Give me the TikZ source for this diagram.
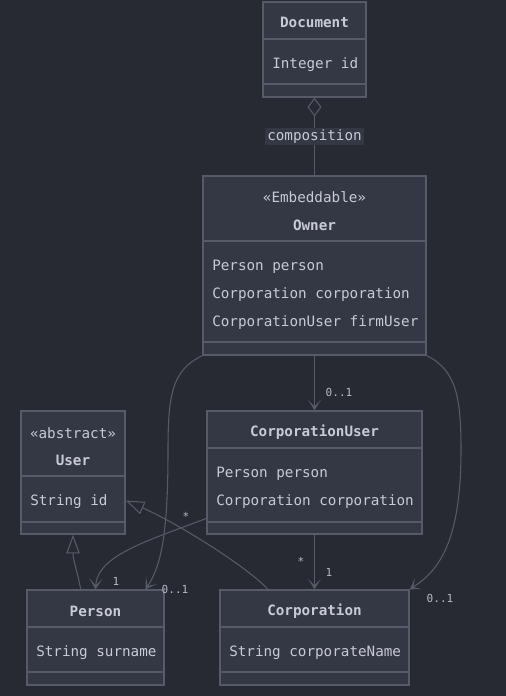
\documentclass[tikz,border=0pt]{standalone}
\usepackage{fontspec}
\setmonofont{DejaVu Sans Mono}
\usetikzlibrary{arrows.meta}

\definecolor{bgc}{HTML}{282A33}
\definecolor{boxc}{HTML}{343744}
\definecolor{linec}{HTML}{565A69}
\definecolor{textc}{HTML}{C8CBD6}
\definecolor{labelc}{HTML}{B4B8C4}

\tikzset{
    classbox/.style={draw=linec, fill=boxc, line width=1.1pt, inner sep=0pt},
    divider/.style={draw=linec, line width=1.1pt},
    title/.style={text=textc, inner sep=0pt, yshift=-1pt, font=\ttfamily\bfseries\fontsize{10.7}{12}\selectfont},
    attr/.style={text=textc, inner sep=0pt, yshift=-1pt, anchor=west, font=\ttfamily\fontsize{10.7}{12}\selectfont},
    mult/.style={text=labelc, inner sep=0pt, font=\ttfamily\fontsize{8.3}{10}\selectfont},
    conn/.style={draw=linec, line width=0.8pt},
    assoc/.style={conn, -{Stealth[length=8pt, width=10pt, inset=5pt]}},
    inherit/.style={conn, -{Triangle[open, length=14pt, width=10pt, fill=bgc]}},
}

\begin{document}
\begin{tikzpicture}[x=0.75pt, y=-0.75pt]
            \fill[bgc] (0, 0) rectangle (506, 696);
            \useasboundingbox (0, 0) rectangle (506, 696);

            % class boxes
            \node[classbox, minimum width={103*0.75pt}, minimum height={95*0.75pt}] (document) at (314.5, 49.5) {};
            \node[classbox, minimum width={223*0.75pt}, minimum height={179*0.75pt}] (owner) at (314.5, 265.5) {};
            \node[classbox, minimum width={104*0.75pt}, minimum height={123*0.75pt}] (user) at (73, 472.5) {};
            \node[classbox, minimum width={215*0.75pt}, minimum height={123*0.75pt}] (corpuser) at (314.5, 472.5) {};
            \node[classbox, minimum width={137*0.75pt}, minimum height={95*0.75pt}] (person) at (95.5, 637.5) {};
            \node[classbox, minimum width={189*0.75pt}, minimum height={95*0.75pt}] (corporation) at (314.5, 637.5) {};

            \draw[divider] (263, 39) -- (366, 39);
            \draw[divider] (263, 84) -- (366, 84);
            \draw[divider] (203, 241) -- (426, 241);
            \draw[divider] (203, 342) -- (426, 342);
            \draw[divider] (21, 476) -- (125, 476);
            \draw[divider] (21, 522) -- (125, 522);
            \draw[divider] (207, 448) -- (422, 448);
            \draw[divider] (207, 522) -- (422, 522);
            \draw[divider] (27, 627) -- (164, 627);
            \draw[divider] (27, 672) -- (164, 672);
            \draw[divider] (220, 627) -- (409, 627);
            \draw[divider] (220, 672) -- (409, 672);

            % texts
            \node[title] (document_name) at (314.5, 21) {Document};
            \node[attr] (document_id) at (272, 63) {Integer id};
            \node[attr, anchor=center] (owner_stereo) at (314.5, 196) {«Embeddable»};
            \node[title] (owner_name) at (314.5, 224) {Owner};
            \node[attr] (owner_a1) at (212, 265) {Person person};
            \node[attr] (owner_a2) at (212, 293) {Corporation corporation};
            \node[attr] (owner_a3) at (212, 321) {CorporationUser firmUser};
            \node[attr, anchor=center] (user_stereo) at (73, 432) {«abstract»};
            \node[title] (user_name) at (73, 459) {User};
            \node[attr] (user_id) at (30, 500) {String id};
            \node[title] (corpuser_name) at (314.5, 431) {CorporationUser};
            \node[attr] (corpuser_a1) at (216, 472) {Person person};
            \node[attr] (corpuser_a2) at (216, 500) {Corporation corporation};
            \node[title] (person_name) at (95.5, 610) {Person};
            \node[attr] (person_a1) at (36, 651) {String surname};
            \node[title] (corporation_name) at (314.5, 610) {Corporation};
            \node[attr] (corporation_a1) at (229, 651) {String corporateName};

            % connectors
            \draw[conn, {Diamond[open, length=14pt, width=10.5pt]}-] (document.south) -- (owner.north)
                node[midway, fill=boxc, text=textc, inner sep=1.5pt, font=\ttfamily\fontsize{10.7}{12}\selectfont] (comp_label) {composition};
            \draw[assoc] (owner.south) -- (corpuser.north);
            \draw[assoc] (corpuser.south) -- (corporation.north);
            \draw[assoc] (corpuser.203) .. controls (150, 540) and (97, 555) .. (person.north);
            \draw[assoc] (owner.south west) .. controls (172, 370) and (168, 395) .. (168, 450)
                .. controls (168, 530) and (162, 565) .. (person.44);
            \draw[assoc] (owner.south east) .. controls (457, 370) and (461, 400) .. (461, 450)
                .. controls (461, 540) and (440, 570) .. (corporation.north east);
            \draw[inherit] (person.107) .. controls (77, 570) and (73, 560) .. (user.south);
            \draw[inherit] (corporation.134) .. controls (245, 565) and (175, 522) .. (user.332);

            % multiplicities
            \node[mult] (m_owner_cu) at (339, 392) {0..1};
            \node[mult] (m_cu_corp_a) at (301, 561) {*};
            \node[mult] (m_cu_corp_b) at (329, 572) {1};
            \node[mult] (m_cu_person_a) at (186, 516) {*};
            \node[mult] (m_cu_person_b) at (116, 581) {1};
            \node[mult] (m_owner_person) at (175, 589) {0..1};
            \node[mult] (m_owner_corp) at (440, 598) {0..1};
        \end{tikzpicture}
\end{document}
